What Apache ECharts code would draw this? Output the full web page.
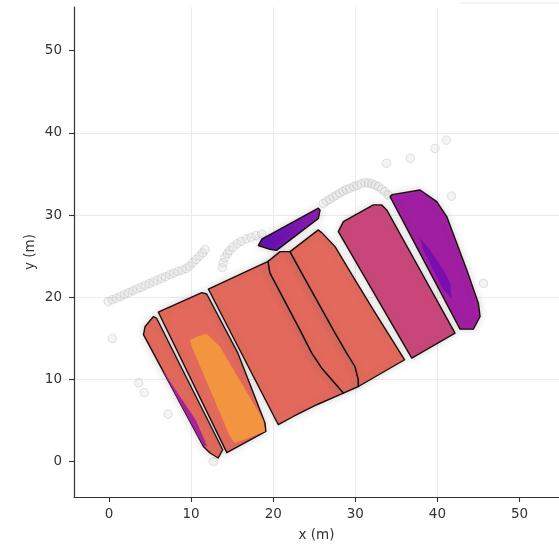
<!DOCTYPE html>
<html>
<head>
<meta charset="utf-8">
<script src="https://cdn.jsdelivr.net/npm/echarts@6/dist/echarts.min.js"></script>
<style>
  html, body { margin: 0; padding: 0; background: #fff; }
  #chart { width: 559px; height: 546px; }
</style>
</head>
<body>
<div id="chart"></div>
<script>
// Axis ticks and extents (metres)
const xTicks = [0, 10, 20, 30, 40, 50];
const yTicks = [0, 10, 20, 30, 40, 50];
const xRange = [-4.26, 54.8];
const yRange = [-4.29, 55.3];

// Track samples (x, y) in metres
const trackWest = [
  [-0.1, 19.5], [0.4, 19.7], [0.9, 19.9], [1.4, 20.1], [1.9, 20.35], [2.4, 20.55],
  [2.9, 20.8], [3.4, 21.0], [3.9, 21.2], [4.4, 21.45], [4.9, 21.65], [5.4, 21.85],
  [5.9, 22.1], [6.4, 22.3], [6.9, 22.5], [7.4, 22.75], [7.9, 22.95], [8.4, 23.15],
  [8.9, 23.3], [9.4, 23.5], [9.8, 23.8], [10.2, 24.2], [10.6, 24.6], [11.0, 25.0],
  [11.4, 25.4], [11.7, 25.8]
];
const trackMiddle = [
  [13.8, 23.6], [13.9, 24.2], [14.1, 24.8], [14.4, 25.3], [14.7, 25.7], [15.1, 26.1],
  [15.6, 26.5], [16.1, 26.8], [16.7, 27.1], [17.3, 27.3], [17.9, 27.5], [18.6, 27.7]
];
const trackEast = [
  [26.1, 31.4], [26.5, 31.7], [26.9, 31.9], [27.3, 32.2], [27.7, 32.4], [28.1, 32.65],
  [28.5, 32.9], [28.9, 33.1], [29.3, 33.25], [29.8, 33.45], [30.2, 33.6], [30.7, 33.8],
  [31.2, 33.95], [31.6, 33.9], [32.0, 33.8], [32.4, 33.65], [32.8, 33.45], [33.2, 33.15],
  [33.6, 32.85], [34.0, 32.45]
];
const strayPoints = [
  [33.8, 36.3], [36.7, 36.9], [39.7, 38.1], [41.1, 39.1], [41.7, 32.3], [45.6, 21.7],
  [0.4, 15.0], [3.6, 9.6], [4.3, 8.4], [7.2, 5.8], [12.7, 0.0]
];

// Zone outlines (x, y) in metres
const zoneA = [
  [5.4, 17.65], [4.4, 16.45], [4.2, 15.45], [11.5, 1.86], [12.3, 1.06],
  [13.3, 0.45], [13.85, 1.46], [5.8, 17.45]
];
const zoneB = [
  [6.0, 18.2], [11.3, 20.57], [11.9, 20.4], [15.7, 13.2], [19.0, 4.7],
  [19.1, 3.7], [14.35, 1.1]
];
const zoneC = [
  [12.1, 21.0], [19.37, 24.36], [19.6, 22.96], [23.26, 16.04], [24.7, 13.2],
  [25.9, 11.4], [28.55, 8.35], [25.3, 6.93], [22.45, 5.5], [20.62, 4.5]
];
const zoneD = [
  [19.37, 24.36], [20.83, 25.55], [22.05, 25.55], [23.26, 23.33], [27.32, 16.04],
  [28.95, 13.21], [29.96, 11.58], [30.37, 9.96], [30.37, 9.15], [28.55, 8.35],
  [25.9, 11.4], [24.7, 13.2], [23.26, 16.04], [19.6, 22.96]
];
const zoneE = [
  [22.05, 25.55], [25.49, 28.19], [25.94, 27.83], [27.53, 26.16], [29.72, 22.52],
  [32.19, 18.47], [36.0, 12.4], [30.37, 9.15], [30.37, 9.96],
  [29.96, 11.58], [28.95, 13.21], [27.32, 16.04], [23.26, 23.33]
];
const zoneF = [
  [18.19, 26.28], [18.6, 27.06], [25.5, 30.83], [25.7, 30.6], [25.5, 29.6],
  [20.4, 25.7], [19.6, 25.84]
];
const zoneG = [
  [27.93, 27.98], [28.54, 29.2], [32.19, 31.23], [33.22, 31.23], [33.82, 30.62],
  [42.14, 15.64], [36.87, 12.6]
];
const zoneH = [
  [34.23, 32.24], [34.47, 32.48], [37.88, 33.05], [39.91, 31.63], [41.13, 29.81],
  [43.57, 23.33], [44.98, 19.28], [45.19, 17.66], [44.37, 16.12], [42.75, 16.12]
];

// Intensity patches inside zones (no outline)
const patchOrange = [
  [9.87, 14.8], [10.68, 15.2], [11.9, 15.55], [13.5, 14.0], [18.76, 5.1],
  [19.0, 3.68], [15.35, 2.27], [14.74, 3.07], [10.07, 14.0]
];
const patchViolet = [
  [6.4, 11.3], [11.4, 2.1], [12.0, 1.8], [10.6, 5.0], [7.6, 9.5]
];
const patchIndigo = [
  [37.88, 27.18], [39.1, 25.76], [40.72, 23.33], [41.53, 21.71], [41.74, 19.89],
  [40.72, 20.9], [39.5, 23.33], [38.28, 25.76]
];

const SALMON = '#e2695b';
const OUTLINE = '#1e0d0d';

function polygonSeries(name, pts, fill, outlined, z) {
  return {
    type: 'custom',
    name: name,
    coordinateSystem: 'cartesian2d',
    z: z,
    silent: true,
    data: pts,
    encode: { x: 0, y: 1 },
    renderItem: function (params, api) {
      if (params.dataIndex !== 0) return null;
      const points = pts.map(function (p) { return api.coord(p); });
      const style = { fill: fill };
      if (outlined) {
        style.stroke = OUTLINE;
        style.lineWidth = 1.4;
        style.lineJoin = 'round';
        style.shadowBlur = 7;
        style.shadowColor = 'rgba(120,120,120,0.3)';
      }
      return { type: 'polygon', shape: { points: points }, style: style };
    }
  };
}

function trackSeries(name, pts) {
  return {
    type: 'scatter',
    name: name,
    z: 1,
    silent: true,
    data: pts,
    symbol: 'circle',
    symbolSize: 8.5,
    itemStyle: {
      color: 'rgba(215,215,215,0.35)',
      borderColor: 'rgba(170,170,170,0.42)',
      borderWidth: 1
    }
  };
}

const gridLine = { show: true, showMinLine: false, showMaxLine: false, lineStyle: { color: '#ebebeb', width: 1 } };
const axisLine = { show: true, onZero: false, lineStyle: { color: '#333333', width: 1.2 } };
const labelFont = { fontFamily: 'DejaVu Sans', fontSize: 13.5, color: '#333333' };

const chart = echarts.init(document.getElementById('chart'), null, { renderer: 'canvas' });
chart.setOption({
  animation: false,
  backgroundColor: '#ffffff',
  grid: { left: 74, right: 0, top: 7, bottom: 49, containLabel: false, outerBoundsMode: 'none' },
  xAxis: {
    type: 'value',
    min: xRange[0], max: xRange[1],
    splitNumber: 6,
    name: 'x (m)', nameLocation: 'middle', nameGap: 31, nameMoveOverlap: false,
    nameTextStyle: { fontFamily: 'DejaVu Sans', fontSize: 13.5, color: '#333333' },
    axisLine: axisLine,
    axisTick: { show: true, length: 5, lineStyle: { color: '#333333', width: 1.1 }, customValues: xTicks },
    axisLabel: Object.assign({ margin: 10, customValues: xTicks }, labelFont),
    splitLine: gridLine
  },
  yAxis: {
    type: 'value',
    min: yRange[0], max: yRange[1],
    splitNumber: 6,
    name: 'y (m)', nameLocation: 'middle', nameGap: 37, nameRotate: 90, nameMoveOverlap: false,
    nameTextStyle: { fontFamily: 'DejaVu Sans', fontSize: 13.5, color: '#333333' },
    axisLine: axisLine,
    axisTick: { show: true, length: 5, lineStyle: { color: '#333333', width: 1.1 }, customValues: yTicks },
    axisLabel: Object.assign({ margin: 12, customValues: yTicks }, labelFont),
    splitLine: gridLine
  },
  graphic: [{
    type: 'line', silent: true,
    shape: { x1: 460, y1: 3, x2: 559, y2: 3 },
    style: { stroke: '#e8e8e8', lineWidth: 1 }
  }],
  series: [
    trackSeries('trackWest', trackWest),
    trackSeries('trackMiddle', trackMiddle),
    trackSeries('trackEast', trackEast),
    trackSeries('strayPoints', strayPoints),
    polygonSeries('zoneA', zoneA, SALMON, true, 3),
    polygonSeries('zoneB', zoneB, SALMON, true, 3),
    polygonSeries('zoneC', zoneC, SALMON, true, 3),
    polygonSeries('zoneD', zoneD, SALMON, true, 3),
    polygonSeries('zoneE', zoneE, SALMON, true, 3),
    polygonSeries('zoneF', zoneF, {
      type: 'linear', x: 0, y: 0, x2: 1, y2: 0,
      colorStops: [{ offset: 0, color: '#5c0cb2' }, { offset: 1, color: '#8c1aae' }]
    }, true, 3),
    polygonSeries('zoneG', zoneG, '#c9467a', true, 3),
    polygonSeries('zoneH', zoneH, '#9f1ea1', true, 3),
    polygonSeries('patchOrange', patchOrange, '#f2953e', false, 4),
    polygonSeries('patchViolet', patchViolet, '#a6249a', false, 4),
    polygonSeries('patchIndigo', patchIndigo, '#7a0cb0', false, 4)
  ]
});
</script>
</body>
</html>
